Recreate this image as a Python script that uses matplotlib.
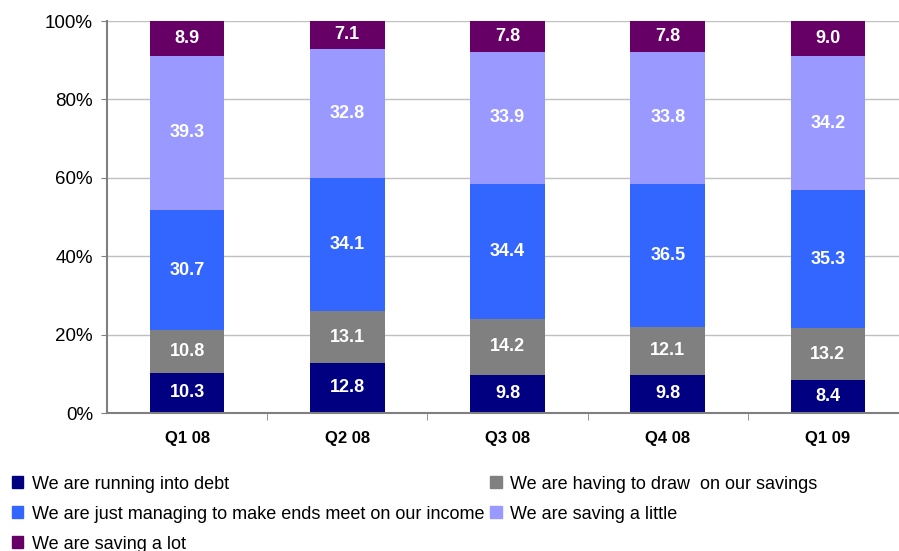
import matplotlib

matplotlib.use("Agg")
import matplotlib.pyplot as plt
import numpy as np
from matplotlib.patches import Patch

plt.rcParams["font.family"] = ["Liberation Sans", "DejaVu Sans"]

quarters = ["Q1 08", "Q2 08", "Q3 08", "Q4 08", "Q1 09"]
series_names = [
    "We are running into debt",
    "We are having to draw  on our savings",
    "We are just managing to make ends meet on our income",
    "We are saving a little",
    "We are saving a lot",
]
debt = [10.3, 12.8, 9.8, 9.8, 8.4]
draw_savings = [10.8, 13.1, 14.2, 12.1, 13.2]
just_managing = [30.7, 34.1, 34.4, 36.5, 35.3]
saving_little = [39.3, 32.8, 33.9, 33.8, 34.2]
saving_lot = [8.9, 7.1, 7.8, 7.8, 9.0]
colors = ["#000080", "#808080", "#3366FF", "#9999FF", "#660066"]

data = np.array([debt, draw_savings, just_managing, saving_little, saving_lot])
shares = data / data.sum(axis=0) * 100

fig = plt.figure(figsize=(8.99, 5.51), dpi=100)
ax = fig.add_axes([107 / 899, 1 - 413 / 551, 801 / 899, 392 / 551])

x = np.arange(len(quarters))
bottom = np.zeros(len(quarters))
for vals, raw, color in zip(shares, data, colors):
    ax.bar(x, vals, bottom=bottom, width=0.465, color=color, zorder=2)
    for xi, b, v, r in zip(x, bottom, vals, raw):
        ax.text(xi, b + v / 2, f"{r:.1f}", ha="center", va="center",
                color="white", fontsize=13, fontweight="bold", zorder=3)
    bottom += vals

ax.set_xlim(-0.5, len(quarters) - 0.5)
ax.set_ylim(0, 100)
ax.set_yticks(np.arange(0, 101, 20))
ax.set_yticklabels([f"{v}%" for v in range(0, 101, 20)], fontsize=13.5)
ax.yaxis.grid(True, color="#C0C0C0", lw=1, zorder=0)
ax.set_xticks(x)
ax.set_xticklabels(quarters, fontsize=12, fontweight="bold")
ax.tick_params(axis="x", length=0, pad=13)
ax.tick_params(axis="y", length=4, color="#808080", pad=6)
ax.set_xticks(np.arange(0.5, len(quarters) - 0.5, 1), minor=True)
ax.tick_params(axis="x", which="minor", length=5, color="#808080")
for s in ["top", "right"]:
    ax.spines[s].set_visible(False)
for s in ["left", "bottom"]:
    ax.spines[s].set_color("#808080")
    ax.spines[s].set_linewidth(1.5)

handles = [Patch(color=c, label=n) for c, n in zip(colors, series_names)]
order = [0, 2, 4, 1, 3]
fig.legend([handles[i] for i in order], [series_names[i] for i in order],
           ncol=2, loc="upper left", bbox_to_anchor=(0.013, 0.137),
           frameon=False, fontsize=13, handlelength=0.65, handleheight=0.65,
           handletextpad=0.45, columnspacing=0.35, labelspacing=0.72,
           borderaxespad=0, borderpad=0)

fig.savefig("out.png", dpi=100)
